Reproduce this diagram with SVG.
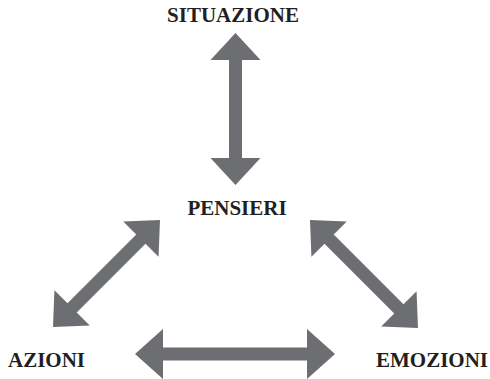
<svg xmlns="http://www.w3.org/2000/svg" width="490" height="379" viewBox="0 0 490 379">
<style>
.lbl{font-family:"Liberation Serif","Times New Roman",serif;font-weight:bold;font-size:21px;fill:#231f20}
.arr{fill:#6d6e71}
</style>
<rect width="490" height="379" fill="#ffffff"/>
<g id="connectors">
<polygon class="arr" transform="translate(235.5,33) rotate(90)" points="0,0 27,-25 27,-6.5 125,-6.5 125,-25 152,0 125,25 125,6.5 27,6.5 27,25"/>
<polygon class="arr" transform="translate(135,354)" points="0,0 28,-25 28,-6.5 172,-6.5 172,-25 200,0 172,25 172,6.5 28,6.5 28,25"/>
<polygon class="arr" transform="translate(53,327) rotate(-45)" points="0,0 27,-25 27,-6.5 124.3,-6.5 124.3,-25 151.3,0 124.3,25 124.3,6.5 27,6.5 27,25"/>
<polygon class="arr" transform="translate(310,220) rotate(45)" points="0,0 27,-25 27,-6.5 125.7,-6.5 125.7,-25 152.7,0 125.7,25 125.7,6.5 27,6.5 27,25"/>
</g>
<g id="situazione"><text class="lbl" x="233" y="22" text-anchor="middle">SITUAZIONE</text></g>
<g id="pensieri"><text class="lbl" x="237" y="215" text-anchor="middle">PENSIERI</text></g>
<g id="azioni"><text class="lbl" x="8" y="367">AZIONI</text></g>
<g id="emozioni"><text class="lbl" x="488" y="367" text-anchor="end">EMOZIONI</text></g>
</svg>
